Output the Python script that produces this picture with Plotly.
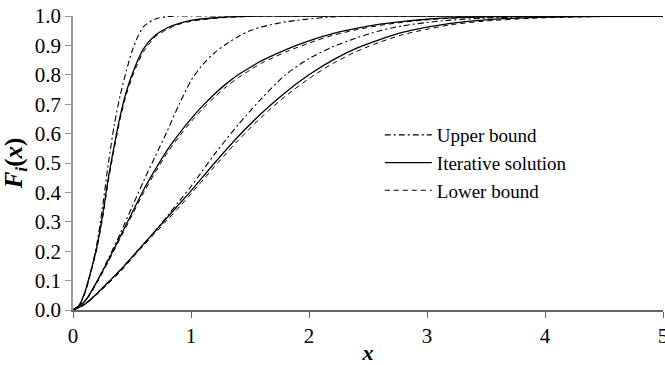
import plotly.graph_objects as go

# ---- data ----
x_g1 = [0, .05, .1, .15, .2, .25, .3, .35, .4, .45, .5, .55, .6, .7, .8, .9, 1.0,
        1.2, 1.4, 1.6, 1.8, 2.0, 2.5, 3.0, 3.5, 4.0, 4.5, 5.0]
g1_solid = [0, .015, .06, .13, .21, .32, .45, .56, .66, .74, .80, .85, .89, .935, .96, .975, .985,
            .994, .998, 1, 1, 1, 1, 1, 1, 1, 1, 1]
g1_lower = [0, .013, .055, .125, .205, .31, .44, .55, .65, .73, .79, .84, .88, .93, .955, .972, .982,
            .992, .997, 1, 1, 1, 1, 1, 1, 1, 1, 1]
x_g1u = [0, .05, .1, .15, .2, .25, .3, .35, .4, .45, .5, .55, .6, .7, .8, .9, 1.0,
         1.2, 1.4, 1.6, 1.8, 2.0, 2.2]
g1_upper = [0, .015, .06, .13, .22, .35, .50, .63, .73, .81, .88, .93, .965, .99, .998, 1, 1,
            1, 1, 1, 1, 1, 1]

x_g2 = [0, .1, .2, .3, .4, .5, .6, .7, .8, .9, 1.0, 1.1, 1.2, 1.3, 1.4, 1.5, 1.6, 1.8, 2.0,
        2.2, 2.4, 2.6, 2.8, 3.0, 3.3, 3.6, 4.0, 4.5, 5.0]
g2_solid = [0, .03, .095, .17, .25, .33, .41, .48, .545, .60, .65, .695, .735, .77, .80, .825, .848,
            .885, .915, .94, .958, .972, .982, .989, .995, .998, 1, 1, 1]
g2_upper = [0, .03, .095, .175, .26, .35, .44, .525, .61, .70, .78, .835, .875, .905, .93, .95, .963,
            .98, .99, .997, 1, 1, 1, 1, 1, 1, 1, 1, 1]
g2_lower = [0, .028, .09, .165, .243, .322, .40, .47, .535, .59, .64, .685, .724, .76, .79, .816, .84,
            .877, .908, .934, .953, .968, .979, .987, .994, .997, .999, 1, 1]

x_g3 = [0, .1, .2, .3, .4, .5, .6, .7, .8, .9, 1.0, 1.2, 1.4, 1.6, 1.8, 2.0, 2.2, 2.4, 2.6,
        2.8, 3.0, 3.2, 3.5, 4.0, 4.5, 5.0]
g3_solid = [0, .02, .055, .095, .135, .18, .225, .27, .315, .36, .405, .50, .59, .67, .74, .80, .85,
            .89, .92, .945, .962, .975, .987, .996, .999, 1]
g3_upper = [0, .02, .055, .095, .135, .18, .225, .27, .32, .37, .42, .53, .63, .72, .80, .855, .895,
            .925, .95, .967, .978, .986, .993, .998, 1, 1]
g3_lower = [0, .018, .052, .09, .13, .175, .22, .263, .307, .35, .395, .488, .577, .657, .727, .787,
            .838, .879, .911, .937, .955, .97, .983, .994, .998, 1]

x_ticks = [0, 1, 2, 3, 4, 5]
y_ticks = [0.0, 0.1, 0.2, 0.3, 0.4, 0.5, 0.6, 0.7, 0.8, 0.9, 1.0]
legend_names = ["Upper bound", "Iterative solution", "Lower bound"]

FONT = "Times New Roman, Liberation Serif, serif"
DASHDOT = "6px,3px,2px,3px"
DASH = "5px,4px"

fig = go.Figure()

styles = {
    "upper": dict(color="black", width=1.1, dash=DASHDOT),
    "solid": dict(color="black", width=1.3, dash="solid"),
    "lower": dict(color="black", width=1.0, dash=DASH),
}

series = [
    ("upper", legend_names[0], [(x_g1u, g1_upper), (x_g2, g2_upper), (x_g3, g3_upper)]),
    ("solid", legend_names[1], [(x_g1, g1_solid), (x_g2, g2_solid), (x_g3, g3_solid)]),
    ("lower", legend_names[2], [(x_g1, g1_lower), (x_g2, g2_lower), (x_g3, g3_lower)]),
]

for key, name, curves in series:
    for k, (xs, ys) in enumerate(curves):
        fig.add_trace(go.Scatter(
            x=xs, y=ys, mode="lines", name=name, legendgroup=key,
            showlegend=(k == 0), line=dict(shape="spline", smoothing=0.8, **styles[key]),
        ))

fig.update_layout(
    width=665, height=365,
    margin=dict(l=73, r=2, t=16, b=55, autoexpand=False),
    paper_bgcolor="white", plot_bgcolor="white",
    font=dict(family=FONT, size=20, color="black"),
    showlegend=True,
    legend=dict(
        x=0.52, y=0.5, xanchor="left", yanchor="middle",
        font=dict(family=FONT, size=19, color="black"),
        bgcolor="rgba(0,0,0,0)", itemwidth=47, traceorder="grouped",
        tracegroupgap=0,
    ),
    xaxis=dict(
        range=[0, 5], tickvals=x_ticks, ticktext=[str(v) for v in x_ticks],
        showgrid=False, zeroline=False, showline=True, linecolor="#666666", linewidth=2,
        ticks="outside", ticklen=6, tickcolor="#666666", tickwidth=1, automargin=False,
        ticklabeloverflow="allow",
        tickfont=dict(family=FONT, size=21),
        title=dict(text="<b><i>x</i></b>", font=dict(family=FONT, size=22), standoff=0),
    ),
    yaxis=dict(
        range=[0, 1.0], tickvals=y_ticks, ticktext=[f"{v:.1f}" for v in y_ticks],
        showgrid=False, zeroline=False, showline=True, linecolor="#999999", linewidth=1.5,
        ticks="outside", ticklen=6, tickcolor="#999999", tickwidth=1, automargin=False,
        ticklabeloverflow="allow",
        tickfont=dict(family=FONT, size=21),
        title=dict(text="<b><i>F<sub>i</sub></i>(<i>x</i>)</b>", font=dict(family=FONT, size=25), standoff=22),
    ),
)

# remove the default page margin so the 665x365 figure fills the window exactly
fig.write_html(
    "out.html",
    config={"displayModeBar": False},
    post_script="document.body.style.margin='0';document.body.style.overflow='hidden';",
)
